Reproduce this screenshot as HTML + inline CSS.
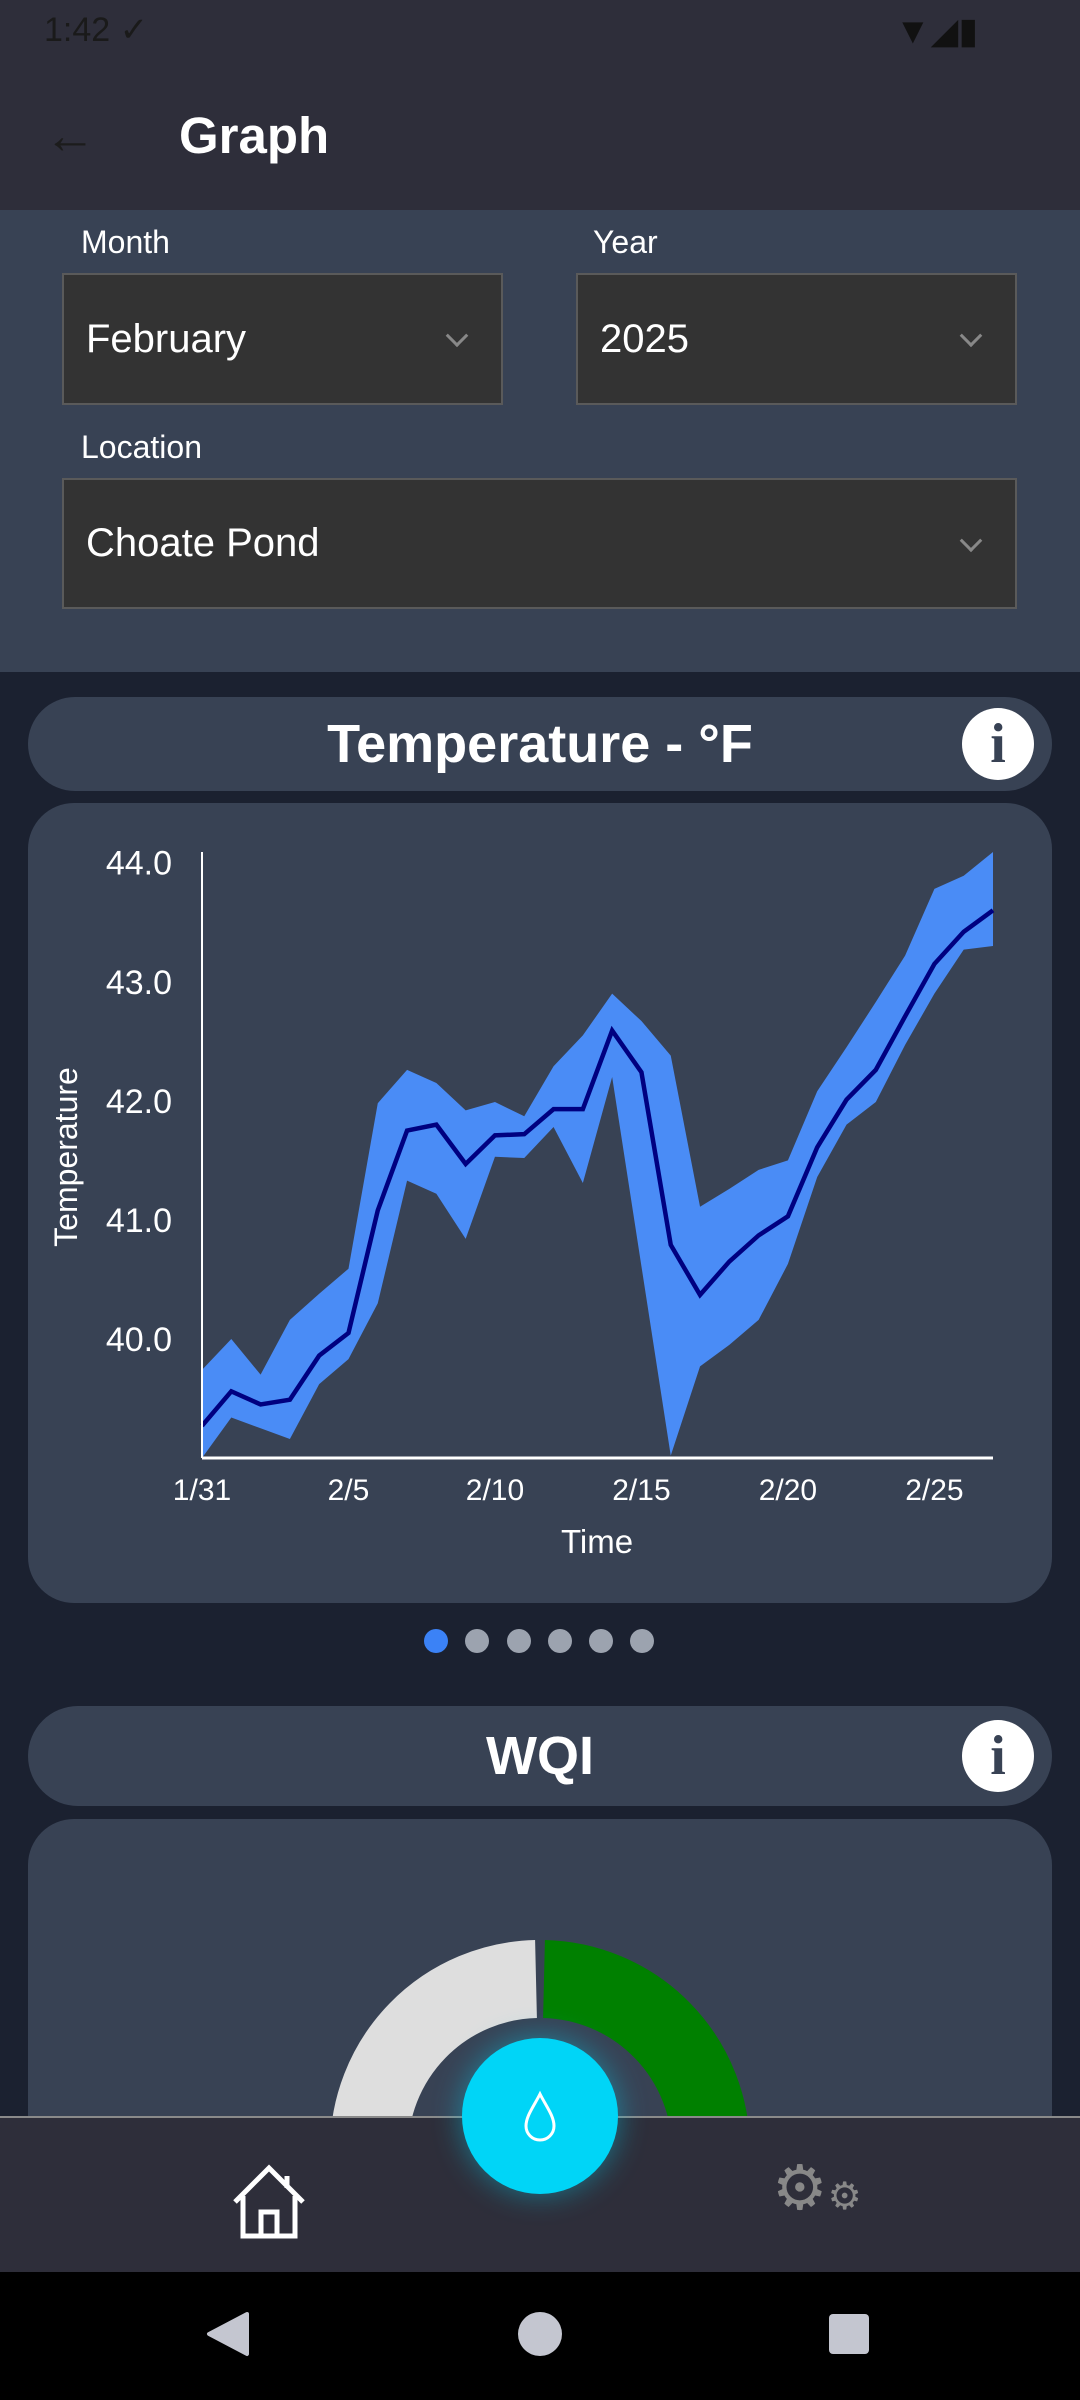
<!DOCTYPE html>
<html><head><meta charset="utf-8">
<style>
*{margin:0;padding:0;box-sizing:border-box}
body{width:1080px;height:2400px;overflow:hidden;background:#1b2130;font-family:"Liberation Sans",sans-serif;position:relative;color:#fff}
.abs{position:absolute}
.lbl{font-size:32px;color:#fff}
.dd{background:#333;border:2px solid #5a5a5a;font-size:40px;display:flex;align-items:center;padding-left:22px}
.chev{position:absolute;right:36px;top:50%;width:16px;height:16px;border-right:3px solid #888;border-bottom:3px solid #888;transform:translateY(-70%) rotate(45deg)}
.pill{background:#384254;border-radius:50px;display:flex;align-items:center;justify-content:center;font-weight:bold;font-size:54px}
.info{position:absolute;right:18px;top:50%;transform:translateY(-50%);width:72px;height:72px;border-radius:50%;background:#fff;color:#384254;font-family:"Liberation Serif",serif;font-weight:bold;font-size:56px;display:flex;align-items:center;justify-content:center}
.dot{position:absolute;width:24px;height:24px;border-radius:50%;background:#9ca3af;top:1629px}
</style></head><body>
<div class="abs" style="left:0;top:0;width:1080px;height:210px;background:#2e2e3a"></div>
<div class="abs" style="left:44px;top:10px;font-size:34px;color:#1a1a1a">1:42 ✓</div>
<div class="abs" style="left:895px;top:10px;font-size:36px;color:#111">▼◢▮</div>
<div class="abs" style="left:44px;top:106px;font-size:52px;color:#1c1c1c">←</div>
<div class="abs" style="left:179px;top:106px;font-size:51px;font-weight:bold">Graph</div>

<div class="abs" style="left:0;top:210px;width:1080px;height:462px;background:#384254"></div>
<div class="abs lbl" style="left:81px;top:224px">Month</div>
<div class="abs lbl" style="left:593px;top:224px">Year</div>
<div class="abs dd" style="left:62px;top:273px;width:441px;height:132px">February<span class="chev"></span></div>
<div class="abs dd" style="left:576px;top:273px;width:441px;height:132px">2025<span class="chev"></span></div>
<div class="abs lbl" style="left:81px;top:429px">Location</div>
<div class="abs dd" style="left:62px;top:478px;width:955px;height:131px">Choate Pond<span class="chev"></span></div>

<div class="abs pill" style="left:28px;top:697px;width:1024px;height:94px">Temperature - °F<div class="info">i</div></div>
<div class="abs" style="left:28px;top:803px;width:1024px;height:800px;background:#384254;border-radius:46px"></div>
<svg class="abs" id="chart" style="left:0;top:0" width="1080" height="1620"></svg>

<div class="dot" style="left:424px;background:#3b82f6"></div>
<div class="dot" style="left:465px"></div>
<div class="dot" style="left:507px"></div>
<div class="dot" style="left:548px"></div>
<div class="dot" style="left:589px"></div>
<div class="dot" style="left:630px"></div>

<div class="abs pill" style="left:28px;top:1706px;width:1024px;height:100px">WQI<div class="info">i</div></div>
<div class="abs" style="left:28px;top:1819px;width:1024px;height:400px;background:#384254;border-radius:46px"></div>
<svg class="abs" style="left:0;top:1900px" width="1080" height="260">
<path d="M369 250 A171 171 0 0 1 536 79" fill="none" stroke="#dedede" stroke-width="78"/>
<path d="M544 79 A171 171 0 0 1 711 250" fill="none" stroke="#008000" stroke-width="78"/>
</svg>

<div class="abs" style="left:0;top:2116px;width:1080px;height:156px;background:#2e2e3a;border-top:2px solid #8a8a8a"></div>
<svg class="abs" style="left:229px;top:2160px" width="80" height="80" viewBox="0 0 80 80">
<path d="M6 42 L40 8 L74 42 M14 36 V76 H66 V36 M32 76 V52 H48 V76 M58 16 V28" fill="none" stroke="#fff" stroke-width="5"/></svg>
<div class="abs" style="left:462px;top:2038px;width:156px;height:156px;border-radius:50%;background:#00d5f7;box-shadow:0 0 30px rgba(0,213,247,.45)"></div>
<svg class="abs" style="left:516px;top:2090px" width="48" height="56" viewBox="0 0 48 56"><path d="M24 4 C18 16 10 26 10 36 A14 14 0 0 0 38 36 C38 26 30 16 24 4Z" fill="none" stroke="#fff" stroke-width="3"/></svg>
<div class="abs" style="left:772px;top:2158px;font-size:62px;color:#888;line-height:1">⚙<span style="font-size:38px">⚙</span></div>

<div class="abs" style="left:0;top:2272px;width:1080px;height:128px;background:#000"></div>
<svg class="abs" style="left:0;top:2272px" width="1080" height="128">
<path d="M247 42 L209 62 L247 82Z" fill="#c4c6d0" stroke="#c4c6d0" stroke-width="4" stroke-linejoin="round"/>
<circle cx="540" cy="62" r="22" fill="#c4c6d0"/>
<rect x="829" y="42" width="40" height="40" rx="4" fill="#c4c6d0"/>
</svg>

<script>
const dayLabels = ["1/31","2/5","2/10","2/15","2/20","2/25"];
const labelDays = [0,5,10,15,20,25];
const yTicks = [40,41,42,43,44];
const meanTemp = [39.27,39.56,39.45,39.49,39.86,40.05,41.08,41.75,41.80,41.47,41.71,41.72,41.93,41.93,42.59,42.24,40.79,40.37,40.65,40.87,41.03,41.61,42.01,42.26,42.71,43.15,43.42,43.60];
const upperTemp = [39.74,40.00,39.70,40.16,40.38,40.59,41.98,42.26,42.15,41.92,41.99,41.87,42.29,42.55,42.90,42.67,42.38,41.11,41.26,41.42,41.50,42.08,42.45,42.83,43.22,43.78,43.89,44.09];
const lowerTemp = [39.00,39.34,39.25,39.16,39.62,39.83,40.30,41.33,41.22,40.84,41.53,41.52,41.78,41.31,42.20,40.61,39.02,39.77,39.95,40.16,40.63,41.36,41.80,41.99,42.47,42.90,43.27,43.30];

const svg = document.getElementById('chart');
const NS = 'http://www.w3.org/2000/svg';
const X0=202, X1=993, Y0=1458, Y1=852;
const yMin=39, yMax=Math.max(...upperTemp);
const n = meanTemp.length;
function xs(i){return X0 + i*(X1-X0)/(n-1);}
function ys(v){return Y0 - (v-yMin)*(Y0-Y1)/(yMax-yMin);}
function mk(tag, attrs){const e=document.createElementNS(NS,tag);for(const k in attrs)e.setAttribute(k,attrs[k]);svg.appendChild(e);return e;}

let d='';
upperTemp.forEach((v,i)=>{d+=(i?'L':'M')+xs(i)+' '+ys(v)+' ';});
for(let i=n-1;i>=0;i--) d+='L'+xs(i)+' '+ys(lowerTemp[i])+' ';
const band = mk('path',{d:d+'Z',fill:'#4a8cf6'});



let dl='';
meanTemp.forEach((v,i)=>{dl+=(i?'L':'M')+xs(i)+' '+ys(v)+' ';});
const line = mk('path',{d:dl,fill:'none',stroke:'#000080','stroke-width':4.5,'stroke-linejoin':'miter'});



const ya = mk('line',{x1:X0,y1:Y1,x2:X0,y2:Y0,stroke:'#fff','stroke-width':2});


const xa = mk('line',{x1:X0,y1:Y0,x2:X1,y2:Y0,stroke:'#fff','stroke-width':3});



yTicks.forEach(t=>{
  const e = mk('text',{x:172,y:ys(t)+12,'text-anchor':'end','font-size':34,fill:'#fff','font-family':'Liberation Sans, sans-serif'});
  e.textContent = t.toFixed(1);
  
  
});
labelDays.forEach((dd,i)=>{
  const e = mk('text',{x:xs(dd),y:1500,'text-anchor':'middle','font-size':30,fill:'#fff','font-family':'Liberation Sans, sans-serif'});
  e.textContent = dayLabels[i];
  
  
});
const xt = mk('text',{x:597,y:1553,'text-anchor':'middle','font-size':33,fill:'#fff','font-family':'Liberation Sans, sans-serif'});
xt.textContent='Time';


const yt = mk('text',{x:0,y:0,'text-anchor':'middle','font-size':32,fill:'#fff','font-family':'Liberation Sans, sans-serif',transform:'translate(77,1157) rotate(-90)'});
yt.textContent='Temperature';


</script>
</body></html>
